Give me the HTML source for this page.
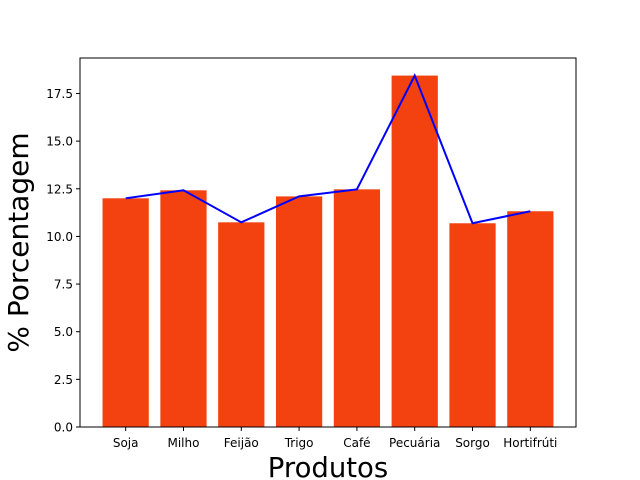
<!DOCTYPE html>
<html><head><meta charset="utf-8"><style>body{margin:0;background:#fff}svg{display:block;font-family:"DejaVu Sans","Liberation Sans",sans-serif}</style></head>
<body>
<svg id="chart" width="640" height="480"></svg>
<script>
const categories = ["Soja","Milho","Feijão","Trigo","Café","Pecuária","Sorgo","Hortifrúti"];
const barValues = [12.0, 12.42, 10.74, 12.1, 12.47, 18.44, 10.69, 11.32];
const lineValues = [12.0, 12.42, 10.74, 12.1, 12.47, 18.44, 10.69, 11.32];
const yTicks = [0.0, 2.5, 5.0, 7.5, 10.0, 12.5, 15.0, 17.5];

const NS = "http://www.w3.org/2000/svg";
const svg = document.getElementById("chart");
const L = 80, R = 576, T = 58, B = 427;
const yMax = Math.max(...barValues) * 1.05;
const xMin = -0.79, xMax = categories.length - 1 + 0.79;
const xs = v => L + (v - xMin) / (xMax - xMin) * (R - L);
const ys = v => B - v / yMax * (B - T);
function mk(tag, attrs, text) {
  const e = document.createElementNS(NS, tag);
  for (const k in attrs) e.setAttribute(k, attrs[k]);
  if (text !== undefined) e.textContent = text;
  svg.appendChild(e);
  return e;
}
barValues.forEach((v, i) => {
  const r = mk("rect", {x: xs(i - 0.4), y: ys(v), width: xs(i + 0.4) - xs(i - 0.4), height: B - ys(v), fill: "#f3410f"});
  
  
});
const line = mk("polyline", {points: lineValues.map((v, i) => xs(i) + "," + ys(v)).join(" "), fill: "none", stroke: "#0000ff", "stroke-width": 2});


const frame = mk("rect", {x: L, y: T, width: R - L, height: B - T, fill: "none", stroke: "#000", "stroke-width": 1});


yTicks.forEach(t => {
  const y = ys(t);
  mk("line", {x1: L - 4, x2: L, y1: y, y2: y, stroke: "#000"});
  const lb = mk("text", {x: L - 7, y: y + 4.5, "text-anchor": "end", "font-size": 12}, t.toFixed(1));
  
  
});
categories.forEach((c, i) => {
  const x = xs(i);
  mk("line", {x1: x, x2: x, y1: B, y2: B + 4, stroke: "#000"});
  const lb = mk("text", {x: x, y: B + 20, "text-anchor": "middle", "font-size": 12}, c);
  
  
});
const xt = mk("text", {x: (L + R) / 2, y: 477, "text-anchor": "middle", "font-size": 27.5}, "Produtos");


const yt = mk("text", {x: 0, y: 0, "text-anchor": "middle", "font-size": 28, transform: "translate(28," + ((T + B) / 2) + ") rotate(-90)"}, "% Porcentagem");


</script>
</body></html>
